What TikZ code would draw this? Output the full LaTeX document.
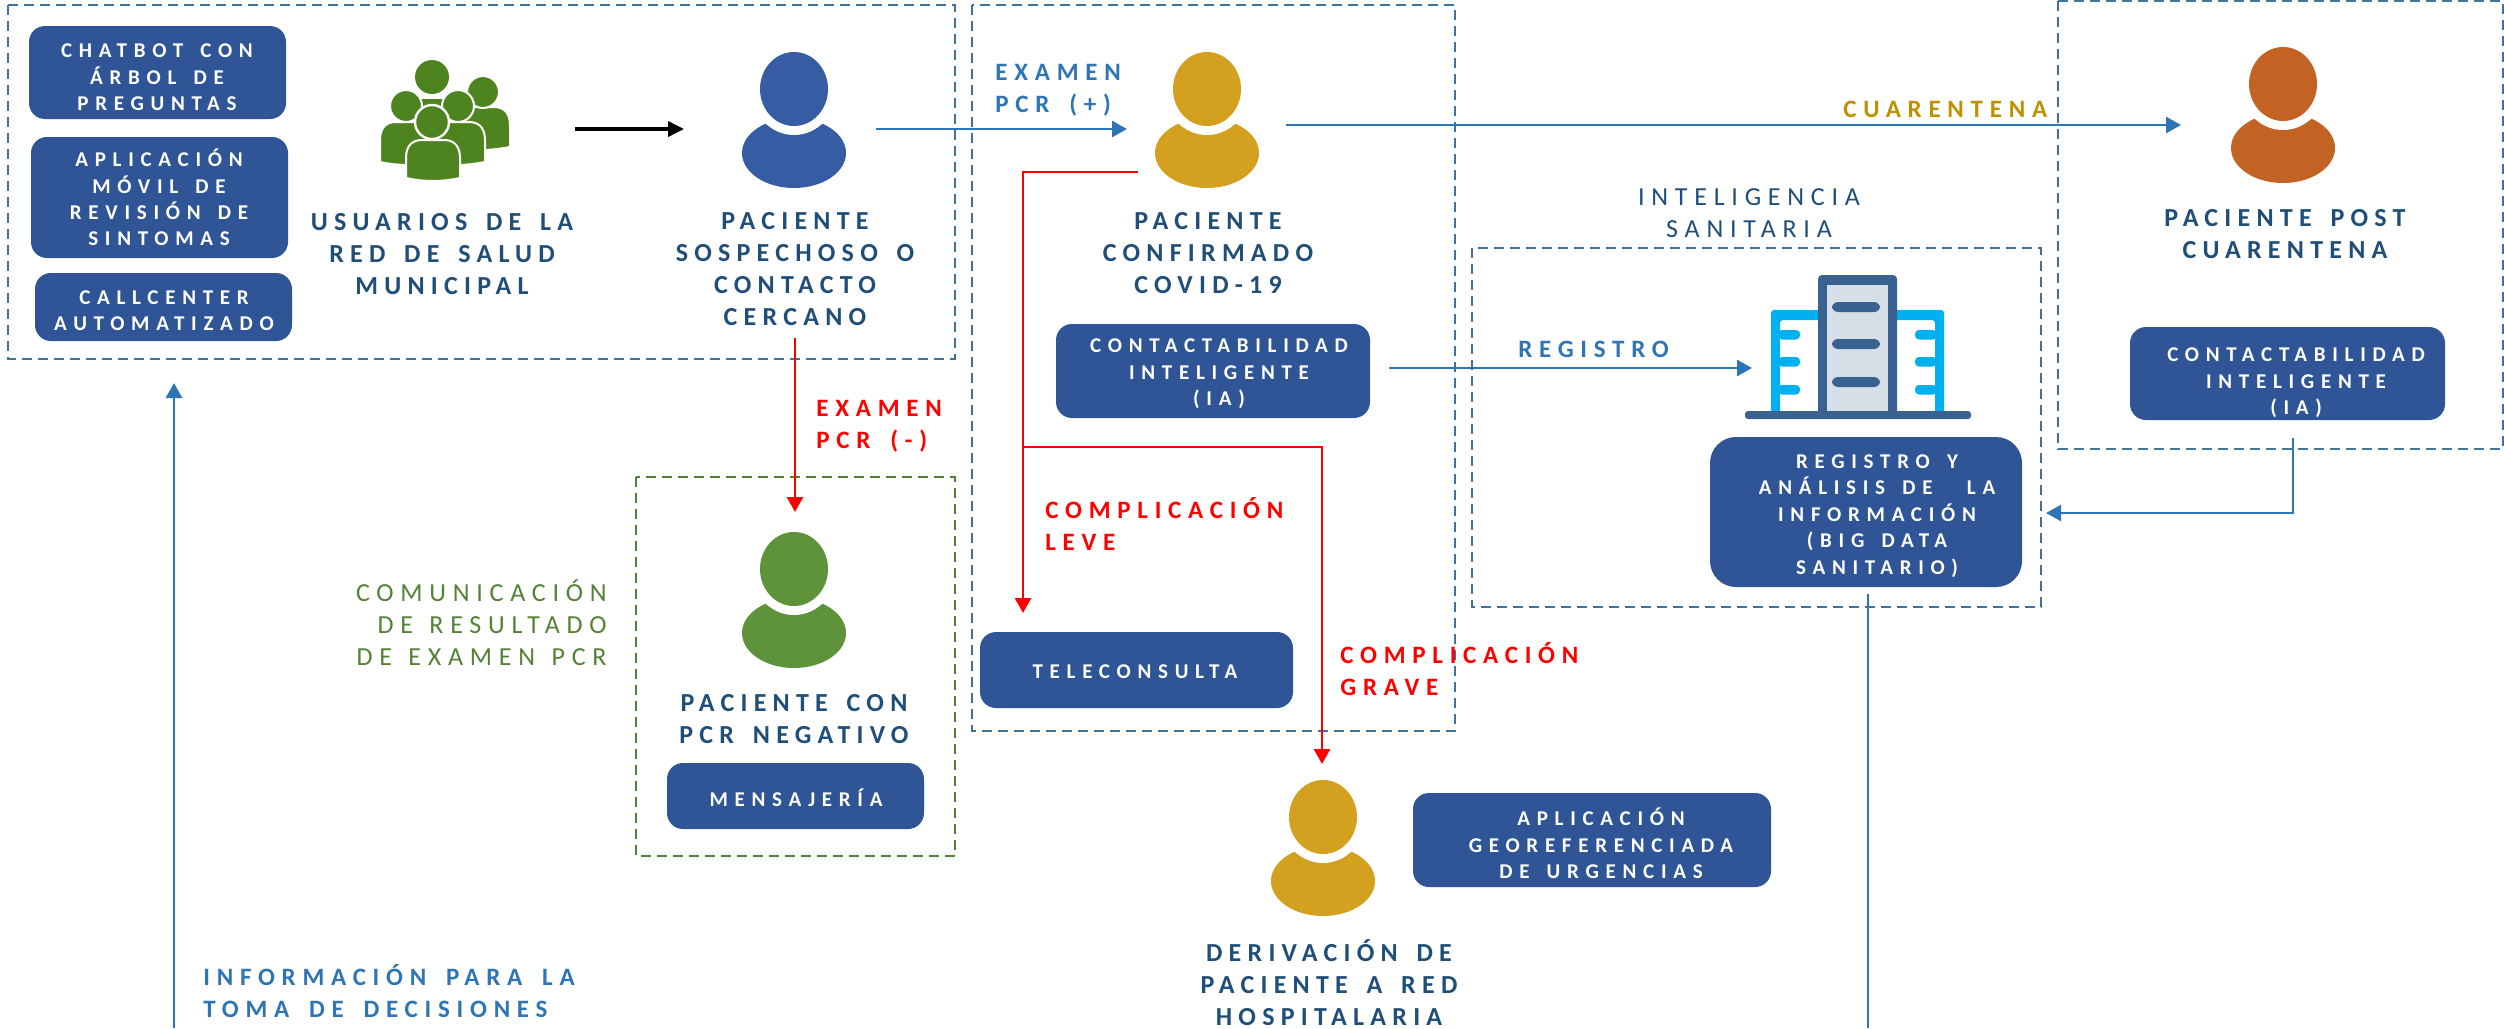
\documentclass[tikz,border=0pt]{standalone}
\usepackage{fontspec}
\usetikzlibrary{arrows.meta}
\setmainfont{Carlito}
\newfontfamily\hdfont{Carlito}[LetterSpace=24,WordSpace=1.55]
\newfontfamily\bxfont{Carlito}[LetterSpace=32,WordSpace=1.5]
\newfontfamily\lgfont{Carlito}[LetterSpace=27,WordSpace=1.6]
\newfontfamily\plfont{Carlito}[LetterSpace=26,WordSpace=1.3]
\definecolor{boxblue}{HTML}{2F5597}
\definecolor{headblue}{HTML}{1F4E79}
\definecolor{dashblue}{HTML}{41719C}
\definecolor{flowblue}{HTML}{2E75B6}
\definecolor{txtgreen}{HTML}{548235}
\definecolor{pblue}{HTML}{365DA4}
\definecolor{pgold}{HTML}{D4A01F}
\definecolor{porange}{HTML}{C26324}
\definecolor{pgreen}{HTML}{5F933B}
\definecolor{crowd}{HTML}{4E8420}
\definecolor{tower}{HTML}{3A6291}
\definecolor{towerin}{HTML}{D6DEE8}
\definecolor{cyanb}{HTML}{00B0F0}
\definecolor{gold}{HTML}{BF9000}
\tikzset{
  zonebox/.style={draw=dashblue,line width=1.25pt,dash pattern=on 5pt off 3pt},
  zonegreen/.style={draw=txtgreen,line width=1.25pt,dash pattern=on 5pt off 3pt},
  pillbox/.style={fill=boxblue,draw=none,inner sep=0pt,rounded corners=8pt},
  heading/.style={text=headblue,align=center,inner sep=0pt,yshift=-1.5pt,font=\fontsize{13}{16}\selectfont\hdfont\bfseries},
  boxtext/.style={text=white,align=center,inner sep=0pt,yshift=-1pt,font=\fontsize{10.5}{13.2}\selectfont\bxfont\bfseries},
  lbl/.style={align=left,inner sep=0pt,yshift=-1pt,font=\fontsize{12.5}{16}\selectfont\lgfont\bfseries},
  plain/.style={align=center,inner sep=0pt,yshift=-1pt,font=\fontsize{13}{16}\selectfont\plfont},
  flow/.style={draw=flowblue,line width=1.4pt,-{Triangle[length=7.5pt,width=8pt]}},
  redflow/.style={draw=red,line width=1.4pt,-{Triangle[length=7.5pt,width=8pt]}},
}
\newcommand{\pillbox}[6][8pt]{%
  \node[pillbox,rounded corners=#1,minimum width={(#5-#3)*0.5},minimum height={(#6-#4)*0.5}] (#2) at ({(#3+#5)/2},{(#4+#6)/2}) {};}
\newcommand{\person}[4]{%
  \fill[#4] (#2,#3+101) ellipse [x radius=52,y radius=35];
  \fill[white] (#2,#3+37) ellipse [x radius=43,y radius=46];
  \fill[#4] (#2,#3+37) ellipse [x radius=34,y radius=37];
  \coordinate (#1) at (#2,#3+68);}
\newcommand{\arch}[5]{% x1 x2 top bottom, colour
  \filldraw[fill=#5,draw=white,line width=1pt] (#1,#4) -- (#1,#3+18) .. controls (#1,#3+4) and (#1+8,#3) .. (#1+16,#3) -- (#2-16,#3) .. controls (#2-8,#3) and (#2,#3+4) .. (#2,#3+18) -- (#2,#4) .. controls ({(#1+#2)/2+8},#4+4) and ({(#1+#2)/2-8},#4+4) .. (#1,#4) -- cycle;}
\begin{document}
\begin{tikzpicture}[x=0.5pt,y=-0.5pt]
\useasboundingbox (0,0) rectangle (2504,1028);
\fill[white] (0,0) rectangle (2504,1028);
% zones
\draw[zonebox] (8,5) rectangle (955,359);
\draw[zonebox] (972,5) rectangle (1455,731);
\draw[zonebox] (2058,1) rectangle (2503,449);
\draw[zonebox,line width=1pt] (1472,248) rectangle (2041,607);
\draw[zonegreen] (636,477) rectangle (955,856);
% service boxes
\pillbox{chat}{29}{26}{286}{119}
\pillbox{app}{31}{137}{288}{258}
\pillbox{call}{35}{273}{292}{341}
\pillbox{contA}{1056}{324}{1370}{418}
\pillbox{contB}{2130}{327}{2445}{420}
\pillbox[13pt]{bigd}{1710}{437}{2022}{587}
\pillbox{tele}{980}{632}{1293}{708}
\pillbox{mens}{667}{763}{924}{829}
\pillbox{geo}{1413}{793}{1771}{887}
\node[boxtext] (chatT) at (157,77) {\strut CHATBOT CON\\ÁRBOL DE\\PREGUNTAS\strut};
\node[boxtext] (appT) at (159,199) {\strut APLICACIÓN\\MÓVIL DE\\REVISIÓN DE\\SINTOMAS\strut};
\node[boxtext] (callT) at (164,310) {\strut CALLCENTER\\AUTOMATIZADO\strut};
\node[boxtext] (contAT) at (1219,372) {\strut CONTACTABILIDAD\\INTELIGENTE\\(IA)\strut};
\node[boxtext] (contBT) at (2296,381) {\strut CONTACTABILIDAD\\INTELIGENTE\\(IA)\strut};
\node[boxtext] (bigdT) at (1877,514) {\strut REGISTRO Y\\ANÁLISIS DE\ \ LA\\INFORMACIÓN\\(BIG DATA\\SANITARIO)\strut};
\node[boxtext] (teleT) at (1135,671) {\strut TELECONSULTA\strut};
\node[boxtext] (mensT) at (796,799) {\strut MENSAJERÍA\strut};
\node[boxtext] (geoT) at (1601,845) {\strut APLICACIÓN\\GEOREFERENCIADA\\DE URGENCIAS\strut};
% people
\person{pSosp}{794}{52}{pblue}
\person{pConf}{1207}{52}{pgold}
\person{pPost}{2283}{47}{porange}
\person{pNeg}{794}{532}{pgreen}
\person{pDeri}{1323}{780}{pgold}
% crowd
\coordinate (crowdC) at (444,119);
\fill[crowd] (432,77) circle [radius=17];
\fill[crowd] (420,97) rectangle (444,125);
\fill[white] (420,96) rectangle (444,99);
\arch{452}{510}{107}{147}{crowd}
\filldraw[fill=crowd,draw=white,line width=1pt] (483,92) circle [radius=16];
\arch{380}{435}{122}{162}{crowd}
\arch{428}{485}{122}{162}{crowd}
\filldraw[fill=crowd,draw=white,line width=1pt] (406,106) circle [radius=16];
\filldraw[fill=crowd,draw=white,line width=1pt] (458,106) circle [radius=16];
\arch{406}{460}{140}{178}{crowd}
\filldraw[fill=crowd,draw=white,line width=1.2pt] (432,122) circle [radius=17];
% building
\coordinate (bldg) at (1752,368);
\fill[cyanb,rounded corners=1.5pt] (1771,415) -- (1771,310) -- (1944,310) -- (1944,415) -- (1935,415) -- (1935,320) -- (1780,320) -- (1780,415) -- cycle;
\foreach \yy in {330,357,385}{
  \fill[cyanb,rounded corners=2pt] (1778,\yy) rectangle (1800,\yy+9.5);
  \fill[cyanb,rounded corners=2pt] (1915,\yy) rectangle (1937,\yy+9.5);}
\fill[tower,rounded corners=2pt] (1818,275) rectangle (1897,415);
\fill[towerin] (1827,285) rectangle (1888,411);
\foreach \yy in {302,339,377}{\fill[tower,rounded corners=3pt] (1832,\yy) rectangle (1880,\yy+10);}
\fill[tower,rounded corners=1.5pt] (1745,411) rectangle (1971,419);
% titles
\node[heading] (tUsu) at (442,253) {\strut USUARIOS DE LA\\RED DE SALUD\\MUNICIPAL\strut};
\node[heading] (tSos) at (795,268) {\strut PACIENTE\\SOSPECHOSO O\\CONTACTO\\CERCANO\strut};
\node[heading] (tConf) at (1208,252) {\strut PACIENTE\\CONFIRMADO\\COVID-19\strut};
\node[heading] (tPost) at (2285,233) {\strut PACIENTE POST\\CUARENTENA\strut};
\node[heading] (tNeg) at (794,718) {\strut PACIENTE CON\\PCR NEGATIVO\strut};
\node[heading] (tDer) at (1329,984) {\strut DERIVACIÓN DE\\PACIENTE A RED\\HOSPITALARIA\strut};
\node[plain,text=headblue] (tInt) at (1749,213) {\strut INTELIGENCIA\\SANITARIA\strut};
\node[plain,text=txtgreen,align=right,anchor=east] (tCom) at (607,625) {\strut COMUNICACIÓN\\DE RESULTADO\\DE EXAMEN PCR\strut};
% connector labels
\node[lbl,text=flowblue,anchor=west] (lPos) at (995,88) {\strut EXAMEN\\PCR (+)\strut};
\node[lbl,text=gold,anchor=west] (lCua) at (1843,109) {\strut CUARENTENA\strut};
\node[lbl,text=flowblue,anchor=west] (lReg) at (1518,349) {\strut REGISTRO\strut};
\node[lbl,text=red,anchor=west] (lNeg) at (816,424) {\strut EXAMEN\\PCR (-)\strut};
\node[lbl,text=red,anchor=west] (lLev) at (1045,526) {\strut COMPLICACIÓN\\LEVE\strut};
\node[lbl,text=red,anchor=west] (lGra) at (1340,671) {\strut COMPLICACIÓN\\GRAVE\strut};
\node[lbl,text=flowblue,anchor=west] (lInf) at (203,993) {\strut INFORMACIÓN PARA LA\\TOMA DE DECISIONES\strut};
% connector ends
\coordinate (crowdOut) at (575,129);
\coordinate (sospIn) at (684,129);
\coordinate (sospOut) at (876,129);
\coordinate (confIn) at (1127,129);
\coordinate (confOut) at (1286,125);
\coordinate (postIn) at (2181,125);
\coordinate (sospDown) at (795,338);
\coordinate (negIn) at (795,512);
\coordinate (confRed) at (1138,172);
\coordinate (redCorner) at (1023,172);
\coordinate (teleIn) at (1023,613);
\coordinate (redBranch) at (1024,447);
\coordinate (redCorner2) at (1322,447);
\coordinate (deriIn) at (1322,764);
\coordinate (contAOut) at (1389,368);
\coordinate (contBOut) at (2293,438);
\coordinate (contBCorner) at (2293,513);
\coordinate (bigdIn) at (2046,513);
\coordinate (bigdOut) at (1868,594);
\coordinate (bottomR) at (1868,1028);
\coordinate (bottomL) at (174,1028);
\coordinate (usersIn) at (174,383);
% connectors
\draw[draw=black,line width=1.75pt,-{Triangle[length=8pt,width=7.5pt]}] (crowdOut) -- (sospIn);
\draw[flow] (sospOut) -- (confIn);
\draw[flow] (confOut) -- (postIn);
\draw[redflow] (sospDown) -- (negIn);
\draw[redflow] (confRed) -- (redCorner) -- (teleIn);
\draw[redflow] (redBranch) -- (redCorner2) -- (deriIn);
\draw[flow] (contAOut) -- (bldg);
\draw[flow,line width=1.1pt] (contBOut) -- (contBCorner) -- (bigdIn);
\draw[draw=flowblue,line width=1.1pt] (bigdOut) -- (bottomR);
\draw[flow] (bottomL) -- (usersIn);
\end{tikzpicture}
\end{document}
